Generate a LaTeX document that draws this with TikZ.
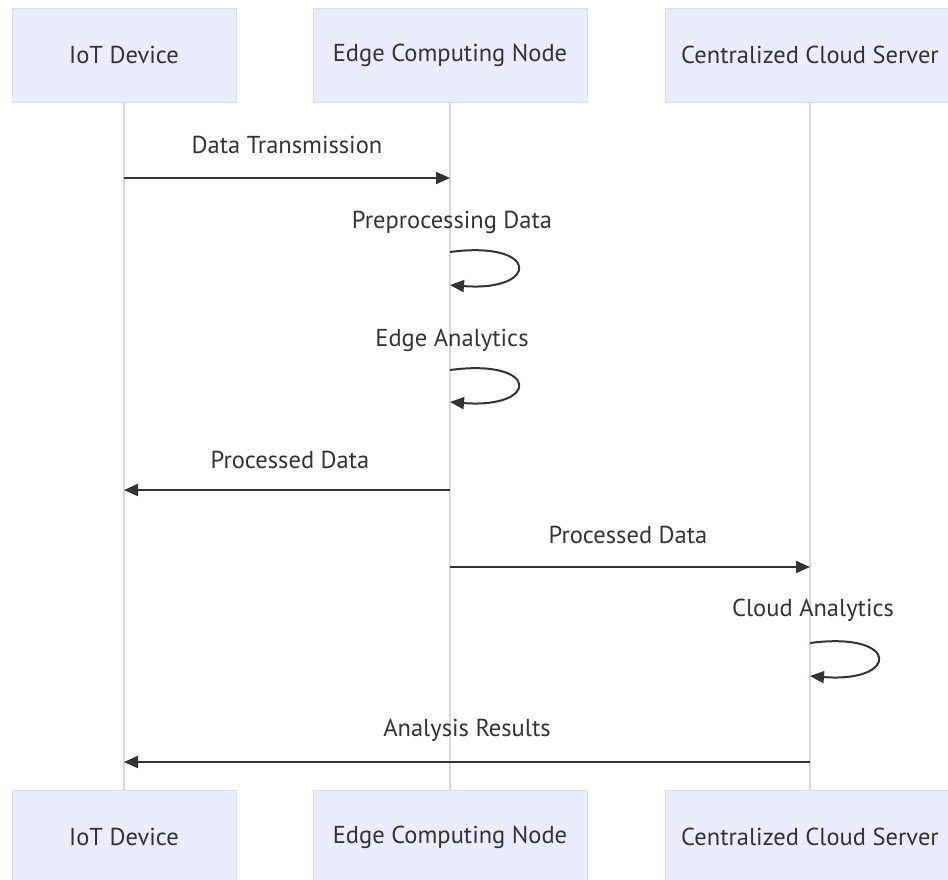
\documentclass[tikz,border=0pt]{standalone}
\usepackage{fontspec}
\setmainfont{PT Sans}
\usetikzlibrary{arrows.meta}
\definecolor{actfill}{HTML}{ECECFF}
\definecolor{actdraw}{HTML}{DCDCEE}
\definecolor{lifecol}{HTML}{D6D6E6}
\definecolor{msgcol}{HTML}{333333}
\definecolor{txtcol}{HTML}{333333}
\tikzset{
  actor/.style={draw=actdraw, fill=actfill, line width=0.8pt, minimum height=94pt, text=txtcol, font=\fontsize{24.5}{28}\selectfont},
  lifeline/.style={draw=lifecol, line width=1.5pt},
  msg/.style={draw=msgcol, line width=2pt, -{Triangle[length=14pt,width=12pt]}},
  lbl/.style={text=txtcol, font=\fontsize{24.5}{28}\selectfont},
}
\begin{document}
\begin{tikzpicture}[x=1pt,y=-1pt]
\useasboundingbox (0,0) rectangle (948,879);
\clip (0,0) rectangle (948,879);
\fill[white] (0,0) rectangle (948,879);
% top actors
\node[actor, minimum width=224pt] (topA) at (124,55) {IoT Device};
\node[actor, minimum width=274pt] (topB) at (450,55) {Edge Computing Node};
\node[actor, minimum width=290pt] (topC) at (810,55) {Centralized Cloud Server};
% bottom actors
\node[actor, minimum width=224pt] (botA) at (124,837) {IoT Device};
\node[actor, minimum width=274pt] (botB) at (450,837) {Edge Computing Node};
\node[actor, minimum width=290pt] (botC) at (810,837) {Centralized Cloud Server};
% lifelines
\draw[lifeline] (topA) -- (botA);
\draw[lifeline] (topB) -- (botB);
\draw[lifeline] (topC) -- (botC);
% message end points
\coordinate (m1s) at (124,178); \coordinate (m1e) at (450,178);
\coordinate (l1s) at (450,252); \coordinate (l1e) at (450,285);
\coordinate (l2s) at (450,370); \coordinate (l2e) at (450,402);
\coordinate (m4s) at (450,490); \coordinate (m4e) at (124,490);
\coordinate (m5s) at (450,567); \coordinate (m5e) at (810,567);
\coordinate (l3s) at (810,643); \coordinate (l3e) at (810,676);
\coordinate (m7s) at (810,762); \coordinate (m7e) at (124,762);
% messages
\draw[msg] (m1s) -- (m1e);
\node[lbl] (t1) at (287,145) {Data Transmission};
\node[lbl] (t2) at (452,222) {Preprocessing Data};
\draw[msg] (l1s) .. controls (540,240) and (540,292) .. (l1e);
\node[lbl] (t3) at (452,340) {Edge Analytics};
\draw[msg] (l2s) .. controls (540,358) and (540,409) .. (l2e);
\draw[msg] (m4s) -- (m4e);
\node[lbl] (t4) at (290,460) {Processed Data};
\draw[msg] (m5s) -- (m5e);
\node[lbl] (t5) at (628,535) {Processed Data};
\node[lbl] (t6) at (813,610) {Cloud Analytics};
\draw[msg] (l3s) .. controls (900,631) and (900,683) .. (l3e);
\draw[msg] (m7s) -- (m7e);
\node[lbl] (t7) at (467,730) {Analysis Results};
\end{tikzpicture}
\end{document}
